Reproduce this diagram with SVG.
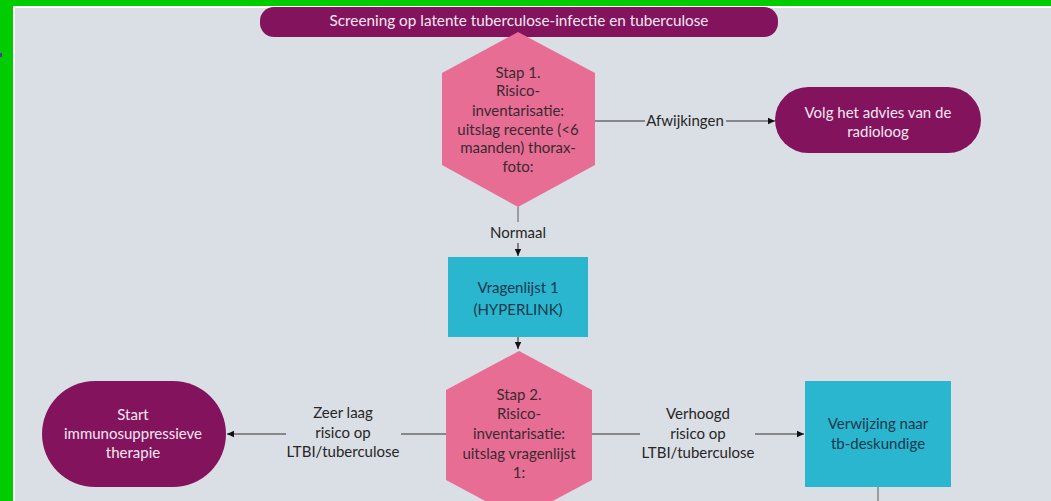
<svg xmlns="http://www.w3.org/2000/svg" width="1051" height="501" viewBox="0 0 1051 501">
  <defs>
    <marker id="arrow" markerWidth="8" markerHeight="8" refX="7" refY="4" orient="auto" markerUnits="userSpaceOnUse">
      <path d="M0,0.8 L7,4 L0,7.2 Z" fill="#111"/>
    </marker>
    <style>
      .txt { font-family: Lato, "Open Sans", "Liberation Sans", sans-serif; text-anchor: middle; }
      .hexText { font-size: 15px; fill: #3a2a30; }
      .boxText { font-size: 15px; fill: #17384a; }
      .termText { font-size: 15px; fill: #f4e8f0; }
      .lbl { font-size: 15px; fill: #262626; }
      .hex { fill: #e86d95; }
      .box { fill: #2bb6d0; }
      .term { fill: #84135e; }
      .edge { stroke: #333; stroke-width: 1.1; fill: none; }
      .edgeGray { stroke: #7a7a7a; stroke-width: 1.3; fill: none; }
    </style>
  </defs>

  <!-- page background and frame -->
  <rect x="0" y="0" width="1051" height="501" fill="#dadee5"/>
  <rect x="0" y="0" width="1051" height="8" fill="#ffffff"/>
  <rect x="0" y="0" width="15" height="501" fill="#ffffff"/>
  <rect x="0" y="0" width="1051" height="6" fill="#00cc00"/>
  <rect x="0" y="0" width="13" height="501" fill="#00cc00"/>
  <rect x="0" y="53" width="2" height="4" fill="#5b2bb5"/>

  <!-- connectors -->
  <g id="connectors">
    <!-- step 1 -> radiologist advice -->
    <path class="edge" d="M595,121 H645"/>
    <path class="edge" d="M726,121 H775" marker-end="url(#arrow)"/>
    <text class="txt lbl" x="685" y="126">Afwijkingen</text>
    <!-- step 1 -> questionnaire -->
    <path class="edgeGray" d="M518,207 V222"/>
    <text class="txt lbl" x="518" y="238">Normaal</text>
    <path class="edge" d="M518,243 V256" marker-end="url(#arrow)"/>
    <!-- questionnaire -> step 2 -->
    <path class="edge" d="M518,337 V349" marker-end="url(#arrow)"/>
    <!-- step 2 -> start therapy -->
    <path class="edge" d="M446,434 H401"/>
    <path class="edge" d="M286,434 H227" marker-end="url(#arrow)"/>
    <text class="txt lbl" x="343" y="418">Zeer laag</text>
    <text class="txt lbl" x="343" y="438">risico op</text>
    <text class="txt lbl" x="343" y="457">LTBI/tuberculose</text>
    <!-- step 2 -> specialist referral -->
    <path class="edge" d="M592,434 H640"/>
    <path class="edge" d="M755,434 H804" marker-end="url(#arrow)"/>
    <text class="txt lbl" x="698" y="419">Verhoogd</text>
    <text class="txt lbl" x="698" y="439">risico op</text>
    <text class="txt lbl" x="698" y="458">LTBI/tuberculose</text>
    <!-- referral continues downward -->
    <path class="edgeGray" d="M878,487 V501"/>
  </g>

  <!-- title banner -->
  <g id="title">
    <rect class="term" x="260" y="7" width="518" height="30" rx="14"/>
    <text class="txt" x="519" y="26" font-size="15.3" fill="#f4e8f0">Screening op latente tuberculose-infectie en tuberculose</text>
  </g>

  <!-- step 1 decision -->
  <g id="step1">
    <polygon class="hex" points="518,32 595,73 595,165 518,207 442,165 442,73"/>
    <text class="txt hexText" x="518" y="78">Stap 1.</text>
    <text class="txt hexText" x="518" y="96">Risico-</text>
    <text class="txt hexText" x="518" y="116">inventarisatie:</text>
    <text class="txt hexText" x="518" y="135">uitslag recente (&lt;6</text>
    <text class="txt hexText" x="518" y="153">maanden) thorax-</text>
    <text class="txt hexText" x="518" y="172">foto:</text>
  </g>

  <!-- radiologist advice -->
  <g id="advies">
    <rect class="term" x="775" y="87" width="206" height="66" rx="33"/>
    <text class="txt termText" x="878" y="118">Volg het advies van de</text>
    <text class="txt termText" x="878" y="137">radioloog</text>
  </g>

  <!-- questionnaire 1 -->
  <g id="vragenlijst1">
    <rect class="box" x="448" y="257" width="140" height="80"/>
    <text class="txt boxText" x="518" y="293">Vragenlijst 1</text>
    <text class="txt boxText" x="518" y="315">(HYPERLINK)</text>
  </g>

  <!-- step 2 decision -->
  <g id="step2">
    <polygon class="hex" points="519,351 592,390 592,480 519,519 446,480 446,390"/>
    <text class="txt hexText" x="519" y="400">Stap 2.</text>
    <text class="txt hexText" x="519" y="419">Risico-</text>
    <text class="txt hexText" x="519" y="439">inventarisatie:</text>
    <text class="txt hexText" x="519" y="459">uitslag vragenlijst</text>
    <text class="txt hexText" x="519" y="478">1:</text>
  </g>

  <!-- start therapy -->
  <g id="start">
    <rect class="term" x="42" y="381" width="184" height="106" rx="53"/>
    <text class="txt termText" x="133" y="420">Start</text>
    <text class="txt termText" x="133" y="439">immunosuppressieve</text>
    <text class="txt termText" x="133" y="458">therapie</text>
  </g>

  <!-- referral to specialist -->
  <g id="verwijzing">
    <rect class="box" x="805" y="381" width="146" height="106"/>
    <text class="txt boxText" x="878" y="429">Verwijzing naar</text>
    <text class="txt boxText" x="878" y="449">tb-deskundige</text>
  </g>
</svg>
